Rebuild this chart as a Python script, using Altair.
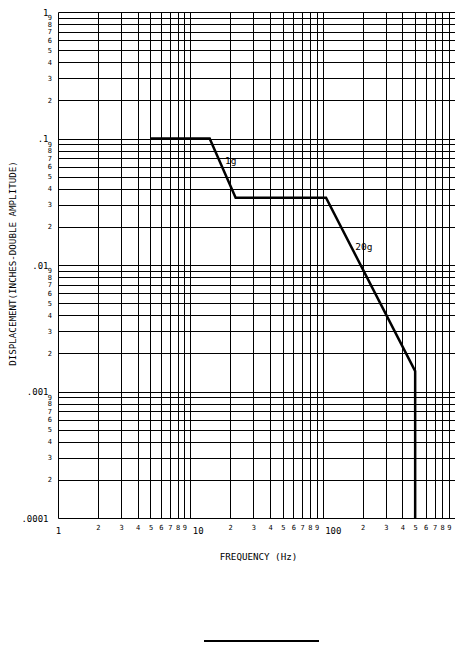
import altair as alt
import pandas as pd

# ---- data ----
curve_freq = [5, 14, 22, 106, 500, 500]
curve_disp = [0.1, 0.1, 0.034, 0.034, 0.00145, 0.0001]

ann_text = ["1g", "20g"]
ann_freq = [20.2, 205]
ann_disp = [0.066, 0.0138]

x_ticks = [1, 2, 3, 4, 5, 6, 7, 8, 9,
           10, 20, 30, 40, 50, 60, 70, 80, 90,
           100, 200, 300, 400, 500, 600, 700, 800, 900, 1000]
y_ticks = [0.0001, 0.0002, 0.0003, 0.0004, 0.0005, 0.0006, 0.0007, 0.0008, 0.0009,
           0.001, 0.002, 0.003, 0.004, 0.005, 0.006, 0.007, 0.008, 0.009,
           0.01, 0.02, 0.03, 0.04, 0.05, 0.06, 0.07, 0.08, 0.09,
           0.1, 0.2, 0.3, 0.4, 0.5, 0.6, 0.7, 0.8, 0.9, 1]

x_title = "FREQUENCY (Hz)"
y_title = "DISPLACEMENT(INCHES-DOUBLE AMPLITUDE)"

FONT = "DejaVu Sans Mono"

curve_df = pd.DataFrame({"freq": curve_freq, "disp": curve_disp,
                         "i": list(range(len(curve_freq)))})
ann_df = pd.DataFrame({"freq": ann_freq, "disp": ann_disp, "label": ann_text})

M = "round(datum.value / pow(10, floor(log(datum.value) / LN10 + 1e-6)))"
MAJ = f"{M} == 1"

x_scale = alt.Scale(type="log", domain=[1, 1000], nice=False)
y_scale = alt.Scale(type="log", domain=[0.0001, 1], nice=False)

x_axis = alt.Axis(
    values=x_ticks, grid=True, ticks=False, tickSize=0, domain=False,
    labelExpr=f"{MAJ} ? (datum.value > 999 ? '' : format(datum.value, 'd')) : format({M}, 'd')",
    labelOverlap=False, labelFlush=False, labelBound=False,
    labelFont=FONT, labelColor="black",
    labelFontSize={"condition": {"test": MAJ, "value": 9}, "value": 7},
    labelPadding={"condition": {"test": MAJ, "value": 12}, "value": 9},
    labelAlign={"condition": {"test": f"{MAJ} && datum.value > 5", "value": "left"}, "value": "center"},
    labelOffset={"condition": {"test": f"{MAJ} && datum.value > 5", "value": 2}, "value": 0},
    labelBaseline="middle",
    title=x_title, titleFont=FONT, titleFontSize=9.2, titleFontWeight="normal",
    titleColor="black", titleX=200, titleY=38, titleAlign="center", titleBaseline="middle",
)
y_axis = alt.Axis(
    values=y_ticks, grid=True, ticks=False, tickSize=0, domain=False,
    labelExpr=f"{MAJ} ? replace(format(datum.value, '.4~f'), '0.', '.') : format({M}, 'd')",
    labelOverlap=False, labelFlush=False, labelBound=False,
    labelFont=FONT, labelColor="black",
    labelFontSize={"condition": {"test": MAJ, "value": 9}, "value": 7},
    labelPadding={"condition": {"test": MAJ, "value": 10}, "value": 6.5},
    labelAlign="right", labelBaseline="middle",
    title=y_title, titleFont=FONT, titleFontSize=9.2, titleFontWeight="normal",
    titleColor="black", titleAngle=270, titleX=-46, titleY=251,
    titleAlign="center", titleBaseline="middle",
)

curve = alt.Chart(curve_df).mark_line(color="black", strokeWidth=2.5).encode(
    x=alt.X("freq:Q", scale=x_scale, axis=x_axis),
    y=alt.Y("disp:Q", scale=y_scale, axis=y_axis),
    order="i:Q",
)

ann = alt.Chart(ann_df).mark_text(font=FONT, fontSize=9.5, color="black",
                                  align="center", baseline="middle").encode(
    x=alt.X("freq:Q", scale=x_scale),
    y=alt.Y("disp:Q", scale=y_scale),
    text="label:N",
)

sig_line = alt.Chart(alt.Data(values=[{}])).mark_rule(color="black", strokeWidth=2).encode(
    x=alt.value(146), x2=alt.value(261), y=alt.value(629),
)

chart = alt.layer(curve, ann, sig_line).properties(
    width=397, height=506,
    padding={"left": 50, "top": 4, "right": 0, "bottom": 125},
    autosize=alt.AutoSizeParams(type="none"),
    background="white",
).configure_view(stroke=None).configure_axis(
    gridColor="black", gridOpacity=1, gridWidth=1,
)

chart.save("out.html", embed_options={"renderer": "svg", "actions": False})
